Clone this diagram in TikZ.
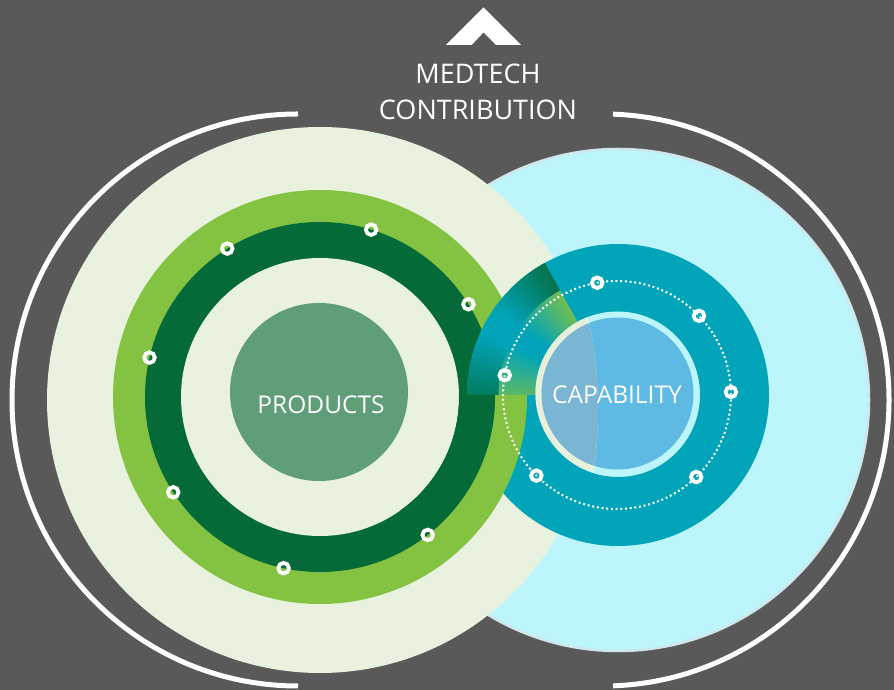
\documentclass[tikz,border=0pt]{standalone}
\usepackage{fontspec}
\setmainfont{Open Sans}
\usetikzlibrary{calc}
\definecolor{bg}{HTML}{595959}
\definecolor{lgreen}{HTML}{E9F2DE}
\definecolor{lcyan}{HTML}{BCF6FC}
\definecolor{cyanedge}{HTML}{CFE7EB}
\definecolor{limec}{HTML}{84C341}
\definecolor{dkgreen}{HTML}{046A38}
\definecolor{prodgreen}{HTML}{5F9E77}
\definecolor{tealc}{HTML}{02A4B9}
\definecolor{capblue}{HTML}{5EBAE3}
\definecolor{capmuted}{HTML}{7AB5D4}
\definecolor{caprimL}{HTML}{E6F0DA}
\tikzset{
  ringmark/.style={draw=white, line width=3.8pt},
  bigtxt/.style={text=white, font=\fontsize{27}{27}\selectfont, inner sep=0pt, anchor=base},
  midtxt/.style={text=white, font=\fontsize{24.5}{24.5}\selectfont, inner sep=0pt, anchor=base},
  bracket/.style={draw=white, line width=5pt}
}
\begin{document}
\begin{tikzpicture}[x=1pt,y=1pt]
\useasboundingbox (0,0) rectangle (894,690);
\fill[bg] (0,0) rectangle (894,690);
\coordinate (G) at (320,293);
\coordinate (T) at (618,295);
\coordinate (C) at (617.5,296.5);
\coordinate (D) at (617,295);
% big background circles
\fill[lcyan, draw=cyanedge, line width=2.5pt] (618,290) circle[radius=251pt];
\fill[lgreen] (320,290) circle[radius=273pt];
% green rings
\fill[limec] (G) circle[radius=207pt];
\fill[dkgreen] (G) circle[radius=175pt];
\fill[lgreen] (G) circle[radius=139pt];
\fill[prodgreen] (319,298) circle[radius=89pt];
% teal ring
\fill[tealc, even odd rule] (T) circle[radius=151pt] (T) circle[radius=82pt];
% green rings on top in lower-left part
\begin{scope}
  \clip (400,0) rectangle (700,295);
  \fill[limec, even odd rule] (G) circle[radius=207pt] (G) circle[radius=175pt];
  \fill[dkgreen, even odd rule] (G) circle[radius=175pt] (G) circle[radius=139pt];
\end{scope}
% sweep wedge
\foreach \a in {119,...,179}{
  \pgfmathsetmacro{\t}{\a<145 ? 0.85*(145-\a)/26 : (\a>155 ? 0.7*(\a-155)/25 : 0)}
  \pgfmathsetmacro{\p}{100*(1-\t)}
  \pgfmathsetmacro{\b}{min(\a+1.6,180)}
  \fill[tealc!\p!dkgreen] ($(T)+(\a:151)$) arc[start angle=\a,end angle=\b,radius=151pt]
     -- ($(T)+(\b:119)$) arc[start angle=\b,end angle=\a,radius=119pt] -- cycle;
  \fill[tealc!\p!limec] ($(T)+(\a:119.5)$) arc[start angle=\a,end angle=\b,radius=119.5pt]
     -- ($(T)+(\b:82)$) arc[start angle=\b,end angle=\a,radius=82pt] -- cycle;
}
% capability circle
\fill[lcyan] (C) circle[radius=82pt];
\fill[capblue] (C) circle[radius=76pt];
\begin{scope}
  \clip (170,280) circle[radius=428pt];
  \fill[caprimL] (C) circle[radius=82pt];
  \fill[capmuted] (C) circle[radius=76pt];
\end{scope}
% dotted orbit
\draw[white, line width=2pt, dash pattern=on 2pt off 2.7pt] (D) circle[radius=114pt];
% markers
\foreach \a in {73,32,122,167,213,258,308}
  \draw[ringmark] ($(G)+(\a:175)$) circle[radius=5.3pt];
\foreach \a in {100,44,1.5,-46,225,170}
  \draw[ringmark] ($(D)+(\a:114)$) circle[radius=5.3pt];
% texts
\node[bigtxt] (medtech) at (478,606) {MEDTECH};
\node[bigtxt] (contrib) at (478,570) {CONTRIBUTION};
\node[midtxt] (products) at (321,276) {PRODUCTS};
\node[midtxt] (capability) at (617,286) {CAPABILITY};
% brackets
\draw[bracket] (298,576) arc[start angle=90,end angle=270,radius=286pt];
\draw[bracket] ($(603,290)+(88:286)$) arc[start angle=88,end angle=-88,radius=286pt];
% chevron
\fill[white] (483.5,682.5) -- (521,645) -- (496,645) -- (483.5,657.7) -- (471.7,645) -- (446,645) -- cycle;
\end{tikzpicture}
\end{document}
